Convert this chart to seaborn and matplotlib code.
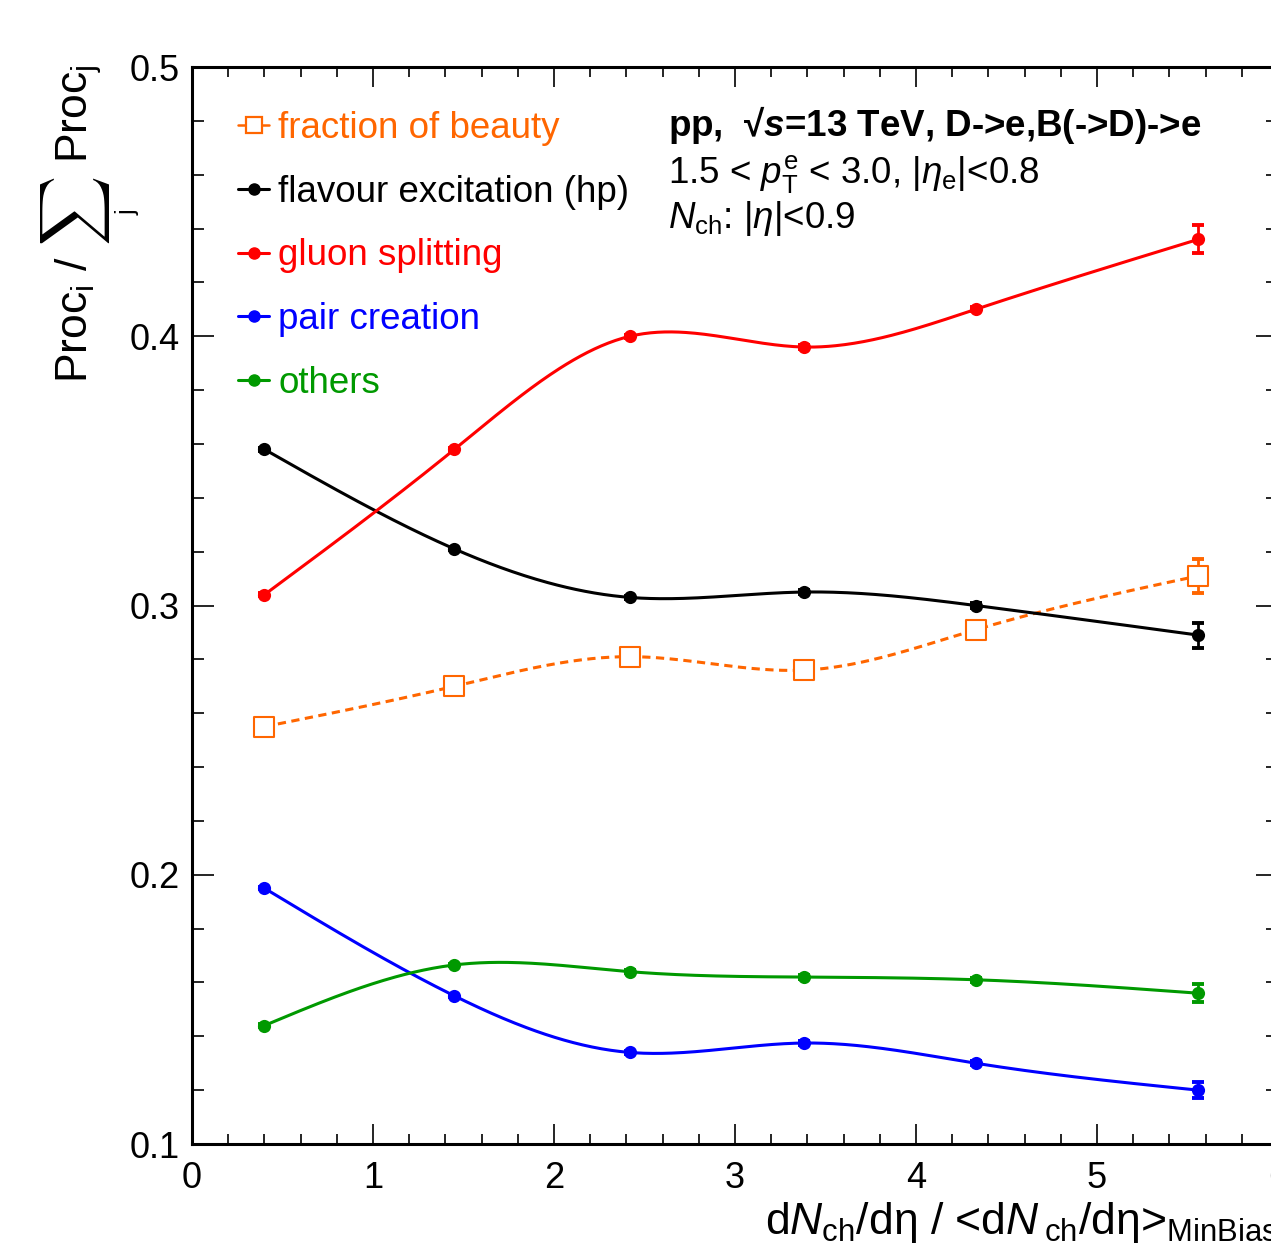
import numpy as np
import matplotlib
matplotlib.use("Agg")
import matplotlib.pyplot as plt
from matplotlib.lines import Line2D
import seaborn as sns

# multiplicity bins (self-normalised charged-particle density)
mult = [0.40, 1.45, 2.42, 3.38, 4.33, 5.56]

# fraction of each production process
frac_beauty = [0.255, 0.270, 0.281, 0.276, 0.291, 0.311]
flavour_exc = [0.358, 0.321, 0.303, 0.305, 0.300, 0.289]
gluon_split = [0.304, 0.358, 0.400, 0.396, 0.410, 0.436]
pair_create = [0.195, 0.155, 0.134, 0.1375, 0.130, 0.120]
others = [0.144, 0.1665, 0.164, 0.162, 0.161, 0.156]

# statistical uncertainties
err_beauty = [0.0010, 0.0010, 0.0012, 0.0014, 0.0016, 0.0063]
err_fe = [0.0005, 0.0005, 0.0006, 0.0007, 0.0008, 0.0046]
err_gs = [0.0005, 0.0005, 0.0006, 0.0007, 0.0008, 0.0052]
err_pc = [0.0004, 0.0004, 0.0005, 0.0006, 0.0007, 0.0030]
err_ot = [0.0004, 0.0004, 0.0005, 0.0006, 0.0007, 0.0033]

labels = ["fraction of beauty", "flavour excitation (hp)", "gluon splitting",
          "pair creation", "others"]
colors = ["#ff6600", "#000000", "#ff0000", "#0000ff", "#009900"]

sns.set_theme(style="ticks")
plt.rcParams["font.family"] = ["Liberation Sans", "DejaVu Sans"]
plt.rcParams["mathtext.fontset"] = "custom"
plt.rcParams["mathtext.rm"] = "Liberation Sans"
plt.rcParams["mathtext.it"] = "Liberation Sans:italic"
plt.rcParams["mathtext.bf"] = "Liberation Sans:bold"
plt.rcParams["mathtext.bfit"] = "Liberation Sans:bold:italic"
for key in ["text.color", "axes.edgecolor", "axes.labelcolor",
            "xtick.color", "ytick.color"]:
    plt.rcParams[key] = "black"


def natural_spline(x, y, xs):
    x = np.asarray(x, float)
    y = np.asarray(y, float)
    n = len(x)
    h = np.diff(x)
    A = np.zeros((n, n))
    r = np.zeros(n)
    A[0, 0] = 1.0
    A[-1, -1] = 1.0
    for i in range(1, n - 1):
        A[i, i - 1] = h[i - 1]
        A[i, i] = 2 * (h[i - 1] + h[i])
        A[i, i + 1] = h[i]
        r[i] = 3 * ((y[i + 1] - y[i]) / h[i] - (y[i] - y[i - 1]) / h[i - 1])
    c = np.linalg.solve(A, r)
    b = (y[1:] - y[:-1]) / h - h * (2 * c[:-1] + c[1:]) / 3
    d = (c[1:] - c[:-1]) / (3 * h)
    idx = np.clip(np.searchsorted(x, xs) - 1, 0, n - 2)
    t = xs - x[idx]
    return y[idx] + b[idx] * t + c[idx] * t ** 2 + d[idx] * t ** 3


W, H = 1271, 1256
fig = plt.figure(figsize=(W / 100, H / 100), dpi=100)
ax = fig.add_axes([192 / W, 1 - 1144 / H, 1086 / W, 1077 / H])

series = [frac_beauty, flavour_exc, gluon_split, pair_create, others]
errors = [err_beauty, err_fe, err_gs, err_pc, err_ot]
xs = np.linspace(mult[0], mult[-1], 400)

for k, (vals, errs, col) in enumerate(zip(series, errors, colors)):
    ys = natural_spline(mult, vals, xs)
    sns.lineplot(x=xs, y=ys, ax=ax, color=col, lw=2.2,
                 linestyle=(0, (2.7, 1.8)) if k == 0 else "-", legend=False,
                 zorder=2)
    ax.errorbar(mult, vals, yerr=errs, fmt="none", ecolor=col,
                elinewidth=2.0, capsize=4, capthick=2.8, zorder=3)
    if k == 0:
        sns.scatterplot(x=mult, y=vals, ax=ax, marker="s", s=200,
                        facecolor="white", edgecolor=col, linewidth=1.5,
                        zorder=4, legend=False)
    else:
        sns.scatterplot(x=mult, y=vals, ax=ax, marker="o", s=90,
                        color=col, edgecolor=col, linewidth=0,
                        zorder=4, legend=False)

ax.set_xlim(0, 6)
ax.set_ylim(0.1, 0.5)
ax.set_xticks([0, 1, 2, 3, 4, 5, 6])
ax.set_xticks(np.arange(0, 6.01, 0.2), minor=True)
ax.set_yticks([0.1, 0.2, 0.3, 0.4, 0.5])
ax.set_yticklabels(["0.1", "0.2", "0.3", "0.4", "0.5"])
ax.set_yticks(np.arange(0.1, 0.501, 0.02), minor=True)
for s in ax.spines.values():
    s.set_linewidth(2.2)
ax.tick_params(which="both", direction="in", top=True, right=True,
               labelsize=26, width=1.2)
ax.tick_params(axis="x", which="major", length=14.5, pad=12)
ax.tick_params(axis="x", which="minor", length=7.5)
ax.tick_params(axis="y", which="major", length=16, pad=9)
ax.tick_params(axis="y", which="minor", length=8.5)
ax.set_xlabel("")
ax.set_ylabel("")

# x-axis title
fig.text(765 / W, 1 - 1234 / H,
         r"d$N_{\rm ch}$/dη / <d$N\,$$_{\rm ch}$/dη>$_{\rm MinBias}$",
         ha="left", va="baseline", fontsize=32)

# y-axis title: Proc_i / sum_j Proc_j
fig.text(88 / W, 1 - 383 / H, r"Proc$_{\rm i}$ /", rotation=90,
         rotation_mode="anchor", ha="left", va="baseline", fontsize=32)
fig.text(75 / W, 1 - 211 / H, r"$\sum$", rotation=90, ha="center",
         va="center", fontsize=35, math_fontfamily="cm")
fig.text(128 / W, 1 - 212 / H, "j", rotation=90, ha="center",
         va="center", fontsize=18)
fig.text(88 / W, 1 - 163 / H, r"Proc$_{\rm j}$", rotation=90,
         rotation_mode="anchor", ha="left", va="baseline", fontsize=32)

# legend
handles = []
for k, (lab, col) in enumerate(zip(labels, colors)):
    if k == 0:
        handles.append(Line2D([], [], color=col, lw=1.8, marker="s", ms=11,
                              mfc="white", mec=col, mew=1.6))
    else:
        handles.append(Line2D([], [], color=col, lw=2.2, marker="o", ms=8))
ax.legend(handles, labels, loc="upper left",
          bbox_to_anchor=((238 - 192) / 1086, (1144 - 111) / 1077),
          frameon=False, fontsize=26.5, labelcolor="linecolor",
          handlelength=0.85, handletextpad=0.25, labelspacing=0.78,
          borderpad=0, borderaxespad=0)

# collision system and selection
fig.text(668 / W, 1 - 136 / H,
         r"pp,  √$\mathbfit{s}$=13 TeV, D->e,B(->D)->e",
         fontsize=26.5, fontweight="bold", ha="left", va="baseline")
fig.text(668 / W, 1 - 183 / H,
         r"1.5 < $p_{\rm T}^{\rm e}$ < 3.0, |$\eta_{\rm e}$|<0.8",
         fontsize=26.5, ha="left", va="baseline")
fig.text(668 / W, 1 - 228 / H,
         r"$N_{\rm ch}$: |$\eta$|<0.9",
         fontsize=26.5, ha="left", va="baseline")

fig.savefig("out.png", dpi=100)
